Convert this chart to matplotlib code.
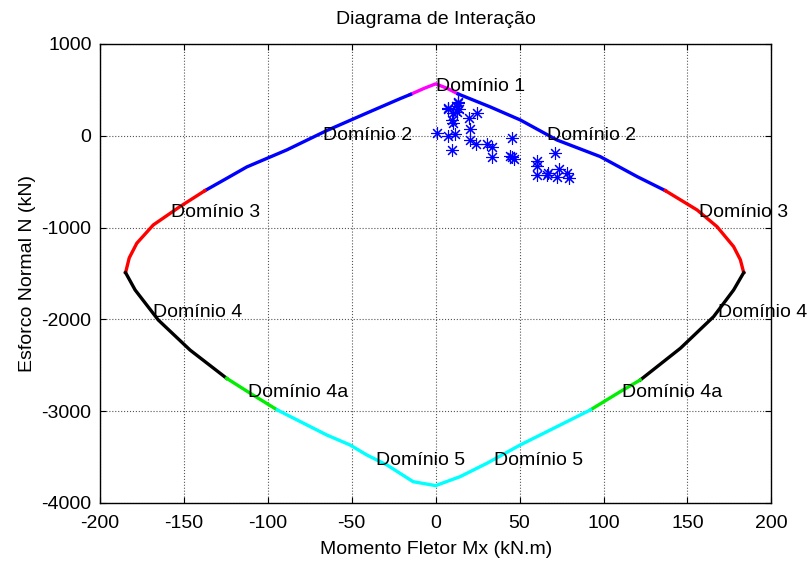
import numpy as np
import matplotlib
matplotlib.use("Agg")
import matplotlib.pyplot as plt

plt.rcParams['font.family'] = ['Liberation Sans', 'DejaVu Sans']
plt.rcParams['axes.unicode_minus'] = False

# ------------------------------------------------------------------------------
# interaction curve, one array pair per domain (M in kN.m, N in kN)
dom1_m = [-15, -7, 0, 7, 13.4]
dom1_n = [450, 515, 565, 515, 455]

dom2_left_m = [-15, -21, -40, -65, -88.7, -112.5, -125, -137.4]
dom2_left_n = [450, 405, 255, 55, -155, -340, -470, -598]
dom2_right_m = [13.4, 32.5, 50.4, 72.2, 98, 120, 136.8]
dom2_right_n = [455, 314, 172, -46, -227, -445, -598]

dom3_left_m = [-137.4, -152.3, -168.2, -178, -182.5, -184.7]
dom3_left_n = [-598, -772, -972, -1171, -1330, -1491]
dom3_right_m = [136.8, 155.7, 167.6, 177.5, 181.5, 183.5]
dom3_right_n = [-598, -808, -990, -1208, -1350, -1491]

dom4_left_m = [-184.7, -179, -165.2, -146.3, -124.5]
dom4_left_n = [-1491, -1680, -2007, -2334, -2642]
dom4_right_m = [183.5, 177.5, 165.6, 145.8, 121.9]
dom4_right_n = [-1491, -1680, -1970, -2315, -2660]

dom4a_left_m = [-124.5, -110, -94.3]
dom4a_left_n = [-2642, -2810, -2987]
dom4a_right_m = [92.1, 110, 121.9]
dom4a_right_n = [-2987, -2787, -2660]

dom5_m = [-94.3, -64.9, -51, -41, -29, -13.4, 0, 14.6, 30.5, 50.4, 66.3, 92.1]
dom5_n = [-2987, -3259, -3368, -3477, -3586, -3768, -3811, -3713, -3568, -3368, -3223, -2987]

# applied loads
load_m = [13.6, 7.6, 12.2, 14.2, 10.6, 9.7, 10.6, 13.6, 7.6, 12.5, 19.6, 24.6,
          20.6, 0.7, 7.6, 11.6, 20.6, 24.1, 30.5, 9.7, 33.5, 33.5, 45.4, 45.4,
          46.5, 44.5, 60.3, 60.3, 71.2, 60.3, 66.3, 67.2, 73.2, 72.2, 78.2, 79.2]
load_n = [372, 300, 325, 289, 245, 172, 136, 354, 289, 260, 191, 245,
          72, 27, -5, 24, -46, -90, -90, -160, -227, -118, -27, -236,
          -250, -220, -275, -330, -191, -427, -427, -409, -365, -445, -409, -460]

# domain labels
label_text = ['Domínio 1', 'Domínio 2', 'Domínio 2', 'Domínio 3', 'Domínio 3',
              'Domínio 4', 'Domínio 4', 'Domínio 4a', 'Domínio 4a',
              'Domínio 5', 'Domínio 5']
label_m = [0, -67, 66.5, -157.7, 157, -168.4, 168.4, -111.8, 111.2, -35.5, 35]
label_n = [531, 0, 0, -841, -841, -1930, -1930, -2802, -2802, -3532, -3532]


# ------------------------------------------------------------------------------
def main():

	fig = plt.figure(figsize=(8.12, 5.63), dpi=100)
	ax = fig.add_axes([0.123, 0.1066, 0.827, 0.8154])

	lw = 2.4
	ax.plot(dom1_m, dom1_n, color='#ff00ff', lw=lw)
	ax.plot(dom2_left_m, dom2_left_n, color='#0000ff', lw=lw)
	ax.plot(dom2_right_m, dom2_right_n, color='#0000ff', lw=lw)
	ax.plot(dom3_left_m, dom3_left_n, color='#ff0000', lw=lw)
	ax.plot(dom3_right_m, dom3_right_n, color='#ff0000', lw=lw)
	ax.plot(dom4_left_m, dom4_left_n, color='black', lw=lw)
	ax.plot(dom4_right_m, dom4_right_n, color='black', lw=lw)
	ax.plot(dom4a_left_m, dom4a_left_n, color='#00ee00', lw=lw)
	ax.plot(dom4a_right_m, dom4a_right_n, color='#00ee00', lw=lw)
	ax.plot(dom5_m, dom5_n, color='#00ffff', lw=lw)

	ax.plot(load_m, load_n, linestyle='none', marker=(8, 2, 0), markersize=9,
		markeredgecolor='#0000ff', markeredgewidth=0.8)

	for txt, m, n in zip(label_text, label_m, label_n):
		ax.text(m, n, txt, fontsize=14, ha='left', va='center')

	ax.set_xlim(-200, 200)
	ax.set_ylim(-4000, 1000)
	ax.set_xticks(np.arange(-200, 201, 50))
	ax.set_yticks(np.arange(-4000, 1001, 1000))
	ax.tick_params(direction='in', top=True, right=True, labelsize=14, length=4)
	ax.tick_params(axis='x', pad=9)
	ax.tick_params(axis='y', pad=6)
	ax.grid(True, linestyle=':', color='#555555', linewidth=0.8)
	for s in ax.spines.values():
		s.set_linewidth(1.0)

	ax.set_title('Diagrama de Interação', fontsize=14, pad=14)
	ax.set_xlabel('Momento Fletor Mx (kN.m)', fontsize=14, labelpad=6)
	ax.set_ylabel('Esforco Normal N (kN)', fontsize=14, labelpad=4)

	fig.savefig('out.png', dpi=100)


# ------------------------------------------------------------------------------
if __name__ == '__main__':
	main()
